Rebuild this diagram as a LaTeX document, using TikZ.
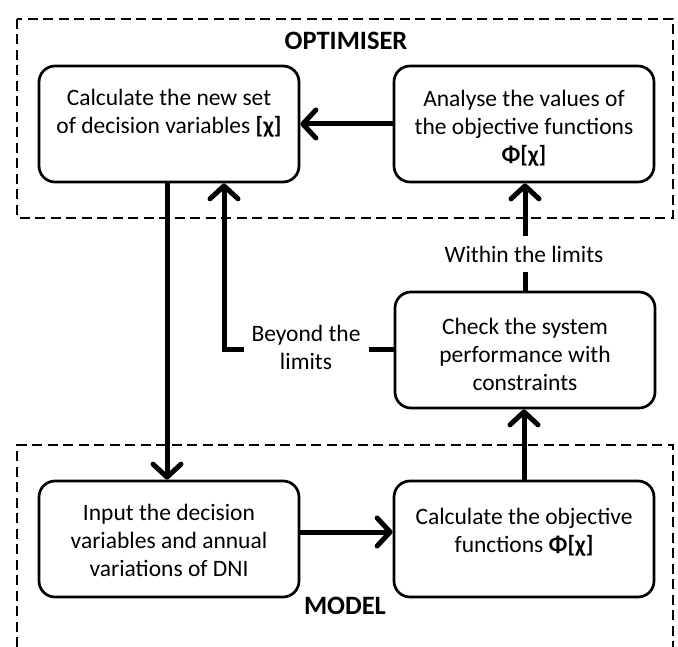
\documentclass[tikz,border=0pt]{standalone}
\usepackage{fontspec}
\setmainfont{Carlito}
\usetikzlibrary{arrows.meta}
\tikzset{
  stepbox/.style={draw, line width=2.7pt, rounded corners=16pt, minimum width=260pt, minimum height=116pt},
  txt/.style={align=center, font=\fontsize{23.5}{28}\selectfont, inner sep=0pt},
  lbl/.style={align=center, font=\fontsize{23.5}{28}\selectfont, fill=white, inner sep=8pt},
  title/.style={font=\fontsize{26.5}{30}\selectfont\bfseries, inner sep=0pt},
  region/.style={line width=1.8pt, dash pattern=on 10pt off 5.5pt},
  flow/.style={line width=5pt, -{Straight Barb[length=13pt,width=28pt,round]}},
}
\begin{document}
\begin{tikzpicture}[x=1pt,y=-1pt]
\useasboundingbox (0,0) rectangle (678,647);
% dashed regions
\draw[region] (17,19) rectangle (673,218);
\draw[region] (17,647) -- (17,445) -- (673,445) -- (673,647);
\node[title] (opt) at (346,41) {OPTIMISER};
\node[title] (mod) at (345,606) {MODEL};
% boxes
\node[stepbox] (A) at (169,124) {};
\node[stepbox] (B) at (524,124) {};
\node[stepbox] (D) at (525,350) {};
\node[stepbox] (C) at (169,539) {};
\node[stepbox] (E) at (524,539) {};
% texts
\node[txt] (tA) at (169,113) {Calculate the new set\\of decision variables \textbf{[χ]}};
\node[txt] (tB) at (524,128) {Analyse the values of\\the objective functions\\\textbf{Φ[χ]}};
\node[txt] (tD) at (525,354) {Check the system\\performance with\\constraints};
\node[txt] (tC) at (169,540) {Input the decision\\variables and annual\\variations of DNI};
\node[txt] (tE) at (524,532) {Calculate the objective\\functions \textbf{Φ[χ]}};
% connectors
\draw[flow] (B.west) -- (A.east);
\draw[flow] ([xshift=-2pt]A.south) -- ([xshift=-2pt]C.north);
\coordinate (bl) at (224,350);
\draw[flow] (D.west |- bl) -- (bl) -- (bl |- A.south);
\draw[flow] (D.north) -- (B.south -| D.north);
\draw[flow] ([yshift=7pt]C.east) -- ([yshift=7pt]E.west);
\draw[flow] (E.north) -- (D.south -| E.north);
% labels on connectors
\node[lbl] (beyond) at (306,347) {Beyond the\\limits};
\node[lbl, inner sep=10pt] (within) at (524,254) {Within the limits};
\end{tikzpicture}
\end{document}
